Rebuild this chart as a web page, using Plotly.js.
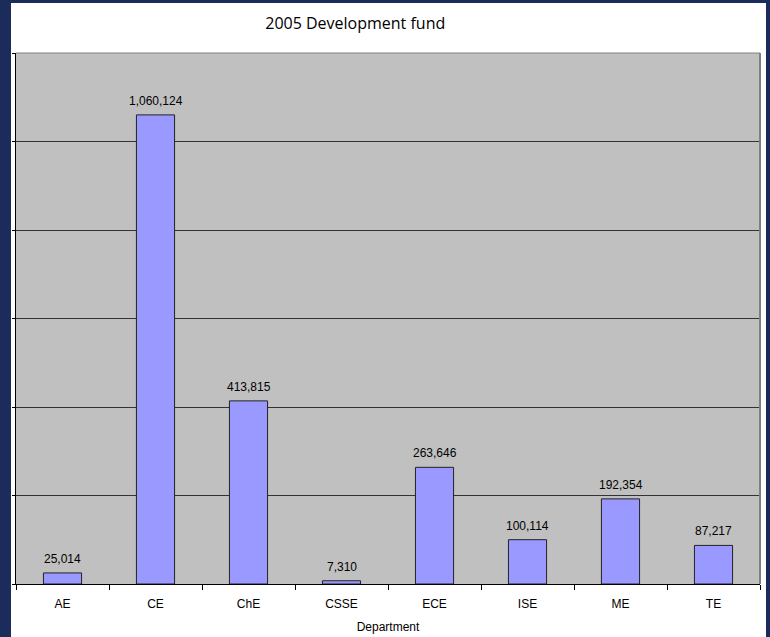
<!DOCTYPE html>
<html>
<head>
<meta charset="utf-8">
<script src="https://cdn.plot.ly/plotly-3.0.1.min.js"></script>
<style>
html,body{margin:0;padding:0;background:#1B2C5A;width:770px;height:637px;overflow:hidden;}
#plot{position:absolute;left:11px;top:3px;width:755px;height:634px;background:#fff;}
</style>
</head>
<body>
<div id="plot"></div>
<script>
const departments = ["AE","CE","ChE","CSSE","ECE","ISE","ME","TE"];
const funds = [25014, 1060124, 413815, 7310, 263646, 100114, 192354, 87217];
const chartTitle = "2005 Development fund";
const xTitle = "Department";

const trace = {
  type: "bar",
  x: departments,
  y: funds,
  marker: {color: "#9999FF", line: {color: "#222222", width: 1}},
  hoverinfo: "x+y"
};

const annotations = departments.map((d, i) => ({
  x: d, y: funds[i], xref: "x", yref: "y",
  text: funds[i].toLocaleString("en-US"),
  showarrow: false, yanchor: "bottom", yshift: 5,
  font: {family: "Arial, Liberation Sans, sans-serif", size: 12, color: "#000"}
}));

const layout = {
  width: 755, height: 634,
  margin: {l: 5, r: 6, t: 50, b: 53},
  paper_bgcolor: "#ffffff",
  plot_bgcolor: "#C0C0C0",
  showlegend: false,
  bargap: 0.59,
  title: {
    text: chartTitle,
    font: {family: "Open Sans, sans-serif", size: 16, color: "#000"},
    xref: "paper", x: 0.456, xanchor: "center",
    yref: "container", y: 0.968, yanchor: "middle"
  },
  xaxis: {
    type: "category",
    tickson: "boundaries",
    ticks: "outside", ticklen: 5, tickcolor: "#000", tickwidth: 1,
    showline: true, linecolor: "#000", linewidth: 1,
    showgrid: false,
    ticklabelstandoff: 9,
    tickfont: {family: "Arial, Liberation Sans, sans-serif", size: 12, color: "#000"},
    title: {text: xTitle, standoff: 12, font: {family: "Arial, Liberation Sans, sans-serif", size: 12, color: "#000"}},
    automargin: false
  },
  yaxis: {
    range: [0, 1200000], dtick: 200000,
    showticklabels: false,
    ticks: "outside", ticklen: 3, tickcolor: "#000",
    showline: true, linecolor: "#000", linewidth: 1,
    showgrid: true, gridcolor: "#333333", gridwidth: 1,
    zeroline: false,
    mirror: false
  },
  shapes: [
    {type: "line", xref: "paper", yref: "paper", x0: 0, x1: 1, y0: 1, y1: 1, line: {color: "#808080", width: 1}},
    {type: "line", xref: "paper", yref: "paper", x0: 1, x1: 1, y0: 0, y1: 1, line: {color: "#808080", width: 2}}
  ],
  annotations: annotations
};

Plotly.newPlot("plot", [trace], layout, {displayModeBar: false, staticPlot: true});
</script>
</body>
</html>
